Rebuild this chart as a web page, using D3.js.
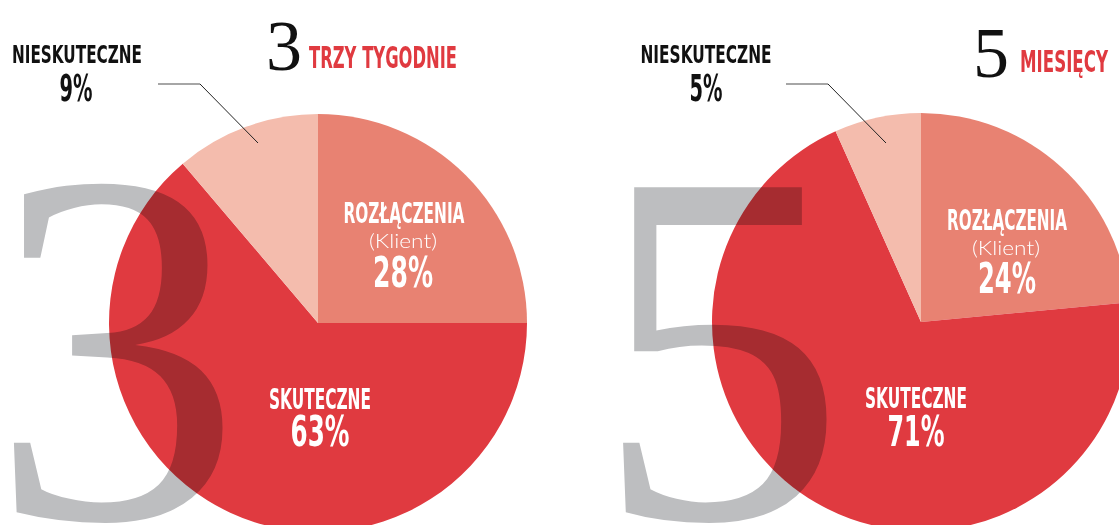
<!DOCTYPE html>
<html>
<head>
<meta charset="utf-8">
<script src="https://cdn.jsdelivr.net/npm/d3@7"></script>
<style>
  body { margin: 0; background: #fff; }
  svg { display: block; }
  .cond { font-family: "Liberation Sans Narrow", "DejaVu Sans Condensed", sans-serif; font-weight: bold; }
</style>
</head>
<body>
<div id="wrapper"></div>
<script>
// slice order clockwise from 12 o'clock
const categories = ["ROZŁĄCZENIA", "SKUTECZNE", "NIESKUTECZNE"];
const sliceColors = ["#e88272", "#e03a40", "#f4bcad"];

// printed percentages
const labelsThreeWeeks = [28, 63, 9];
const labelsFiveMonths = [24, 71, 5];

// slice shares as drawn in the picture
const sharesThreeWeeks = [25, 63.8, 11.2];
const sharesFiveMonths = [23.5, 69.8, 6.7];

const titles = [
  { digit: "3", text: "TRZY TYGODNIE" },
  { digit: "5", text: "MIESIĘCY" }
];

const dimension = { width: 1119, height: 525 };

const svg = d3.select("#wrapper").append("svg")
  .attr("width", dimension.width)
  .attr("height", dimension.height);

const pie = d3.pie().sort(null).value(d => d);
const arc = d3.arc().innerRadius(0).outerRadius(209);

function fitText(g, x, y, str, size, width, fill, cls) {
  const t = g.append("text")
    .attr("x", x).attr("y", y)
    .attr("text-anchor", "middle")
    .attr("fill", fill)
    .style("font-size", size + "px")
    .text(str);
  if (cls) t.attr("class", cls);
  if (width) t.attr("textLength", width).attr("lengthAdjust", "spacingAndGlyphs");
  return t;
}

const charts = [
  {
    cx: 318, cy: 323, shares: sharesThreeWeeks, labels: labelsThreeWeeks, title: titles[0],
    bigX: 116, bigY: 518,
    titleDigit: [284, 70], titleText: [383, 68, 148],
    nies: [77, 63, 130], niesPct: [76, 101, 33],
    leader: [[158, 84], [200, 84], [258, 143]],
    rozl: [404, 223, 121], klient: [403, 248], rozlPct: [403, 287, 60],
    skut: [320, 409, 102], skutPct: [320, 446, 59]
  },
  {
    cx: 921, cy: 322, shares: sharesFiveMonths, labels: labelsFiveMonths, title: titles[1],
    bigX: 720, bigY: 518,
    titleDigit: [991, 77], titleText: [1064, 72, 88],
    nies: [706, 63, 131], niesPct: [706, 101, 33],
    leader: [[786, 84], [828, 84], [886, 143]],
    rozl: [1007, 230, 120], klient: [1006, 255], rozlPct: [1007, 293, 58],
    skut: [916, 408, 102], skutPct: [916, 446, 57]
  }
];

charts.forEach(c => {
  const g = svg.append("g");

  // pie
  const pg = g.append("g").attr("transform", `translate(${c.cx},${c.cy})`);
  pg.selectAll("path")
    .data(pie(c.shares))
    .join("path")
    .attr("d", arc)
    .attr("fill", (d, i) => sliceColors[i]);

  // big grey numeral, multiplied over the pie
  g.append("text")
    .attr("x", c.bigX).attr("y", c.bigY)
    .attr("text-anchor", "middle")
    .attr("fill", "#bdbec0")
    .style("mix-blend-mode", "multiply")
    .style("font-family", "'Liberation Serif', 'DejaVu Serif', serif")
    .style("font-size", "505px")
    .text(c.title.digit);

  // title
  g.append("text")
    .attr("x", c.titleDigit[0]).attr("y", c.titleDigit[1])
    .attr("text-anchor", "middle")
    .attr("fill", "#111")
    .style("font-family", "'Liberation Serif', serif")
    .style("font-size", "72px")
    .text(c.title.digit);
  fitText(g, c.titleText[0], c.titleText[1], c.title.text, 30, c.titleText[2], "#e03a40", "cond");

  // outside label
  fitText(g, c.nies[0], c.nies[1], categories[2], 25, c.nies[2], "#111", "cond");
  fitText(g, c.niesPct[0], c.niesPct[1], c.labels[2] + "%", 37, c.niesPct[2], "#111", "cond");

  // leader line
  g.append("line")
    .attr("x1", c.leader[0][0]).attr("y1", c.leader[0][1])
    .attr("x2", c.leader[1][0]).attr("y2", c.leader[1][1])
    .attr("stroke", "#888").attr("stroke-width", 1.5);
  g.append("line")
    .attr("x1", c.leader[1][0]).attr("y1", c.leader[1][1])
    .attr("x2", c.leader[2][0]).attr("y2", c.leader[2][1])
    .attr("stroke", "#222").attr("stroke-width", 1);

  // inside labels
  fitText(g, c.rozl[0], c.rozl[1], categories[0], 28, c.rozl[2], "#fff", "cond");
  g.append("text")
    .attr("x", c.klient[0]).attr("y", c.klient[1])
    .attr("text-anchor", "middle")
    .attr("fill", "#fff")
    .style("font-family", "Lato, sans-serif")
    .style("font-weight", 300)
    .style("font-size", "20px")
    .attr("textLength", 68)
    .attr("lengthAdjust", "spacingAndGlyphs")
    .text("(Klient)");
  fitText(g, c.rozlPct[0], c.rozlPct[1], c.labels[0] + "%", 42, c.rozlPct[2], "#fff", "cond");

  fitText(g, c.skut[0], c.skut[1], categories[1], 28, c.skut[2], "#fff", "cond");
  fitText(g, c.skutPct[0], c.skutPct[1], c.labels[1] + "%", 42, c.skutPct[2], "#fff", "cond");
});
</script>
</body>
</html>
